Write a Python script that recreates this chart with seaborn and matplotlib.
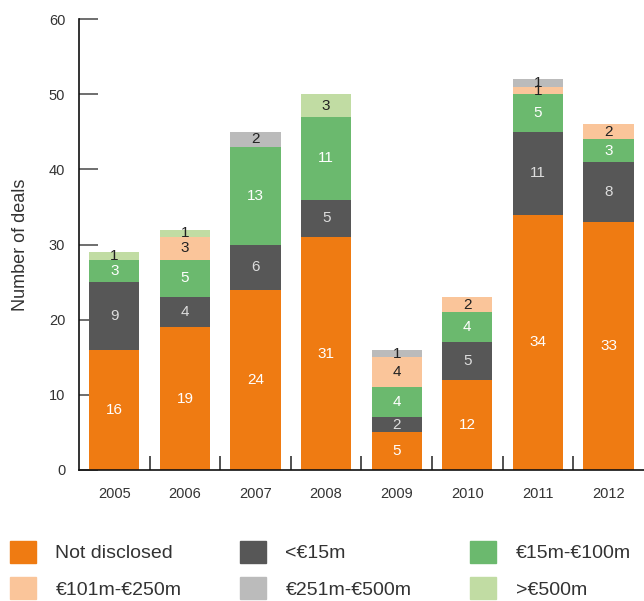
import numpy as np
import pandas as pd
import matplotlib
matplotlib.use("Agg")
import matplotlib.pyplot as plt
import seaborn as sns
from matplotlib.patches import Rectangle

years = ["2005", "2006", "2007", "2008", "2009", "2010", "2011", "2012"]

# deal counts per value band
not_disclosed = [16, 19, 24, 31, 5, 12, 34, 33]
under_15m = [9, 4, 6, 5, 2, 5, 11, 8]
m15_100 = [3, 5, 13, 11, 4, 4, 5, 3]
m101_250 = [0, 3, 0, 0, 4, 2, 1, 2]
m251_500 = [0, 0, 2, 0, 1, 0, 1, 0]
over_500m = [1, 1, 0, 3, 0, 0, 0, 0]

series_names = ["Not disclosed", "<€15m", "€15m-€100m",
                "€101m-€250m", "€251m-€500m", ">€500m"]
series_values = [not_disclosed, under_15m, m15_100, m101_250, m251_500, over_500m]
colors = ["#EF7B12", "#575757", "#6BB96E", "#FAC59A", "#BBBBBB", "#C1DCA3"]
label_colors = ["white", "#DDDDDD", "white", "#222222", "#222222", "#222222"]

sns.set_style("white")
plt.rcParams["font.family"] = ["Liberation Sans", "DejaVu Sans"]
text_col = "#333333"

fig = plt.figure(figsize=(6.44, 6.01), dpi=100)
ax = fig.add_axes([0.1227, 0.218, 0.877, 0.750])

bottom = np.zeros(len(years))
for name, vals, col, lcol in zip(series_names, series_values, colors, label_colors):
    df = pd.DataFrame({"year": years, "deals": vals})
    sns.barplot(data=df, x="year", y="deals", bottom=bottom, color=col,
                width=0.71, saturation=1, ax=ax, linewidth=0, errorbar=None)
    cont = ax.containers[-1]
    labels = [str(v) if v else "" for v in vals]
    ax.bar_label(cont, labels=labels, label_type="center", color=lcol, fontsize=11)
    bottom = bottom + np.array(vals)

ax.set_ylim(0, 60)
ax.set_xlim(-0.5, 7.5)
ax.set_yticks(range(0, 61, 10))
ax.set_xlabel("")
ax.set_ylabel("Number of deals", fontsize=13, color=text_col, labelpad=14)

for s in ["top", "right"]:
    ax.spines[s].set_visible(False)
for s in ["left", "bottom"]:
    ax.spines[s].set_color("#111111")
    ax.spines[s].set_linewidth(1.2)

ax.tick_params(axis="y", left=True, direction="in", length=14, width=1.2,
               color="#555555", labelsize=10.5, labelcolor=text_col, pad=10)
ax.tick_params(axis="x", which="major", bottom=False, length=0, labelsize=10.5,
               labelcolor=text_col, pad=12)
# separator ticks between the year groups
ax.set_xticks(np.arange(0.5, 7.5, 1), minor=True)
ax.tick_params(axis="x", which="minor", bottom=True, direction="in", length=10,
               width=1.2, color="#333333")

handles = [Rectangle((0, 0), 1, 1, color=c) for c in colors]
order = [0, 3, 1, 4, 2, 5]
fig.legend([handles[i] for i in order], [series_names[i] for i in order],
           loc="lower left", bbox_to_anchor=(-0.012, -0.026), ncol=3, frameon=False,
           fontsize=14, handlelength=1.35, handleheight=1.35, handletextpad=1.0,
           columnspacing=3.0, labelspacing=0.75, labelcolor=text_col)

fig.savefig("out.png", dpi=100)
